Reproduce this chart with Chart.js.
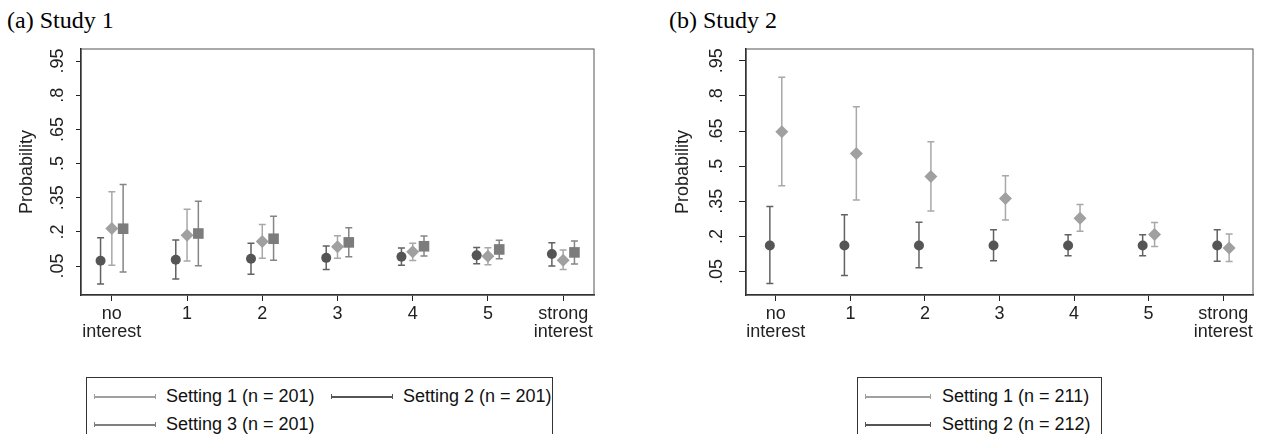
<!DOCTYPE html>
<html>
<head>
<meta charset="utf-8">
<script src="https://cdn.jsdelivr.net/npm/chart.js@4.4.0/dist/chart.umd.min.js"></script>
<style>
html,body{margin:0;padding:0;background:#fff;overflow:hidden;}
body{width:1262px;height:434px;position:relative;font-family:"Liberation Sans",Arial,sans-serif;}
.panel{position:absolute;top:0;width:631px;height:340px;}
.ttl{position:absolute;top:8px;font:24px/24px "Liberation Serif","Times New Roman",serif;color:#000;white-space:nowrap;}
.leg{position:absolute;top:377px;height:80px;border:1px solid #333;background:#fff;}
.it{position:absolute;font-size:18px;line-height:18px;color:#111;white-space:nowrap;}
.smp{position:absolute;height:5px;box-sizing:border-box;border-left:1px solid currentColor;border-right:1px solid currentColor;}
.smp::after{content:'';position:absolute;left:0;right:0;top:2px;height:1.5px;background:currentColor;}
</style>
</head>
<body>
<div class="ttl" style="left:7px">(a) Study 1</div>
<div class="ttl" style="left:669px">(b) Study 2</div>
<canvas id="study1" class="panel" width="631" height="340" style="left:0"></canvas>
<canvas id="study2" class="panel" width="631" height="340" style="left:631px"></canvas>

<div class="leg" style="left:86px;width:465px">
  <div class="smp" style="left:7px;top:16px;width:62px;color:#a0a0a0"></div>
  <div class="it" style="left:79px;top:9px">Setting 1 (n = 201)</div>
  <div class="smp" style="left:244px;top:16px;width:62px;color:#555"></div>
  <div class="it" style="left:316px;top:9px">Setting 2 (n = 201)</div>
  <div class="smp" style="left:7px;top:44px;width:62px;color:#808080"></div>
  <div class="it" style="left:79px;top:37px">Setting 3 (n = 201)</div>
</div>
<div class="leg" style="left:857px;width:243px">
  <div class="smp" style="left:7px;top:16px;width:66px;color:#a0a0a0"></div>
  <div class="it" style="left:84px;top:9px">Setting 1 (n = 211)</div>
  <div class="smp" style="left:7px;top:44px;width:66px;color:#555"></div>
  <div class="it" style="left:84px;top:37px">Setting 2 (n = 212)</div>
</div>

<script>
const categories = [['no', 'interest'], '1', '2', '3', '4', '5', ['strong', 'interest']];
const yTicks = [0.05, 0.2, 0.35, 0.5, 0.65, 0.8, 0.95];
const yTickLabels = ['.05', '.2', '.35', '.5', '.65', '.8', '.95'];

// study 1
const s1Set1Est = [0.215, 0.185, 0.158, 0.135, 0.113, 0.093, 0.076];
const s1Set1Lo  = [0.054, 0.072, 0.084, 0.084, 0.075, 0.056, 0.035];
const s1Set1Hi  = [0.376, 0.299, 0.233, 0.183, 0.150, 0.130, 0.121];
const s1Set2Est = [0.073, 0.078, 0.082, 0.086, 0.091, 0.097, 0.103];
const s1Set2Lo  = [-0.029, -0.007, 0.014, 0.035, 0.054, 0.060, 0.050];
const s1Set2Hi  = [0.174, 0.164, 0.150, 0.138, 0.129, 0.132, 0.152];
const s1Set3Est = [0.214, 0.193, 0.170, 0.154, 0.137, 0.123, 0.110];
const s1Set3Lo  = [0.024, 0.051, 0.076, 0.091, 0.094, 0.082, 0.059];
const s1Set3Hi  = [0.408, 0.335, 0.269, 0.218, 0.182, 0.163, 0.160];

// study 2
const s2Set1Est = [0.647, 0.554, 0.456, 0.362, 0.278, 0.208, 0.151];
const s2Set1Lo  = [0.416, 0.356, 0.309, 0.270, 0.222, 0.157, 0.093];
const s2Set1Hi  = [0.879, 0.753, 0.604, 0.459, 0.336, 0.259, 0.210];
const s2Set2Est = [0.161, 0.161, 0.161, 0.161, 0.161, 0.161, 0.161];
const s2Set2Lo  = [-0.001, 0.033, 0.066, 0.096, 0.117, 0.117, 0.094];
const s2Set2Hi  = [0.328, 0.292, 0.261, 0.229, 0.207, 0.207, 0.228];

Chart.defaults.font.family = '"Liberation Sans", Arial, sans-serif';

// CI whiskers, drawn under each dataset's markers
const errorBars = {
  id: 'errorBars',
  beforeDatasetDraw(chart, args) {
    const ds = chart.data.datasets[args.index];
    const {ctx, scales: {x, y}} = chart;
    ctx.save();
    ctx.strokeStyle = ds.barColor;
    ctx.lineWidth = 1.5;
    ds.data.forEach(d => {
      const px = x.getPixelForValue(d.x);
      const top = y.getPixelForValue(d.hi), bot = y.getPixelForValue(d.lo);
      ctx.beginPath();
      ctx.moveTo(px, top); ctx.lineTo(px, bot);
      ctx.moveTo(px - 3.5, top); ctx.lineTo(px + 3.5, top);
      ctx.moveTo(px - 3.5, bot); ctx.lineTo(px + 3.5, bot);
      ctx.stroke();
    });
    ctx.restore();
  }
};

const frame = {
  id: 'frame',
  beforeDatasetsDraw(chart) {
    const {ctx, chartArea: a} = chart;
    ctx.save();
    ctx.strokeStyle = '#555';
    ctx.lineWidth = 1;
    ctx.strokeRect(a.left, a.top, a.right - a.left, a.bottom - a.top);
    ctx.restore();
  }
};

// vertical y tick labels + axis title
const yText = {
  id: 'yText',
  afterDraw(chart, args, opts) {
    const {ctx, chartArea: a, scales: {y}} = chart;
    ctx.save();
    ctx.fillStyle = '#222';
    ctx.font = '18px "Liberation Sans", Arial, sans-serif';
    ctx.textAlign = 'center';
    ctx.textBaseline = 'middle';
    yTicks.forEach((v, i) => {
      ctx.save();
      ctx.translate(a.left - opts.labelGap, y.getPixelForValue(v));
      ctx.rotate(-Math.PI / 2);
      ctx.fillText(yTickLabels[i], 0, 0);
      ctx.restore();
    });
    ctx.translate(a.left - opts.titleGap, (a.top + a.bottom) / 2);
    ctx.rotate(-Math.PI / 2);
    ctx.fillText('Probability', 0, 0);
    ctx.restore();
  }
};

const styles = {
  set1: {style: 'rectRot', radius: 6.5, color: '#a0a0a0', barColor: '#a8a8a8', order: 1},
  set2: {style: 'circle', radius: 5, color: '#555555', barColor: '#626262', order: 2},
  set3: {style: 'rect', radius: 7.5, color: '#7c7c7c', barColor: '#858585', order: 0}
};

const makeChart = (id, cfg) => {
  new Chart(document.getElementById(id), {
    type: 'scatter',
    data: {
      datasets: cfg.series.map(s => ({
        label: s.label,
        data: s.est.map((v, i) => ({x: i + s.shift, y: v, lo: s.lo[i], hi: s.hi[i]})),
        pointStyle: s.st.style,
        pointRadius: s.st.radius,
        pointHoverRadius: s.st.radius,
        backgroundColor: s.st.color,
        borderColor: s.st.color,
        borderWidth: 0,
        barColor: s.st.barColor,
        order: s.st.order
      }))
    },
    options: {
      responsive: false,
      animation: false,
      events: [],
      layout: {padding: {top: 49, right: cfg.padRight, bottom: 0, left: 0}},
      plugins: {
        legend: {display: false},
        tooltip: {enabled: false},
        yText: {labelGap: cfg.labelGap, titleGap: cfg.titleGap}
      },
      scales: {
        x: {
          type: 'linear',
          min: cfg.xMin,
          max: cfg.xMax,
          afterBuildTicks: s => { s.ticks = categories.map((c, i) => ({value: i})); },
          afterFit: s => { s.height = 45; },
          ticks: {
            callback: v => categories[v],
            font: {size: 18, lineHeight: 1},
            color: '#222',
            padding: 4,
            autoSkip: false,
            maxRotation: 0
          },
          grid: {drawOnChartArea: false, tickLength: 6, color: '#222'},
          border: {color: '#111', width: 1.5}
        },
        y: {
          min: cfg.yMin,
          max: cfg.yMax,
          afterBuildTicks: s => { s.ticks = yTicks.map(v => ({value: v})); },
          afterFit: s => { s.width = cfg.left; },
          ticks: {display: false},
          grid: {drawOnChartArea: false, tickLength: cfg.tickLen, color: '#222'},
          border: {color: '#111', width: 1.5}
        }
      }
    },
    plugins: [errorBars, frame, yText]
  });
};

makeChart('study1', {
  left: 81, padRight: 37, xMin: -0.41, xMax: 6.41, yMin: -0.077, yMax: 1.003,
  tickLen: 5, labelGap: 23, titleGap: 54,
  series: [
    {label: 'Setting 1 (n = 201)', est: s1Set1Est, lo: s1Set1Lo, hi: s1Set1Hi, shift: 0, st: styles.set1},
    {label: 'Setting 2 (n = 201)', est: s1Set2Est, lo: s1Set2Lo, hi: s1Set2Hi, shift: -0.15, st: styles.set2},
    {label: 'Setting 3 (n = 201)', est: s1Set3Est, lo: s1Set3Lo, hi: s1Set3Hi, shift: 0.15, st: styles.set3}
  ]
});

makeChart('study2', {
  left: 115, padRight: 9, xMin: -0.40, xMax: 6.40, yMin: -0.05, yMax: 1.0,
  tickLen: 7, labelGap: 29, titleGap: 63,
  series: [
    {label: 'Setting 1 (n = 211)', est: s2Set1Est, lo: s2Set1Lo, hi: s2Set1Hi, shift: 0.08, st: styles.set1},
    {label: 'Setting 2 (n = 212)', est: s2Set2Est, lo: s2Set2Lo, hi: s2Set2Hi, shift: -0.08, st: styles.set2}
  ]
});
</script>
</body>
</html>
